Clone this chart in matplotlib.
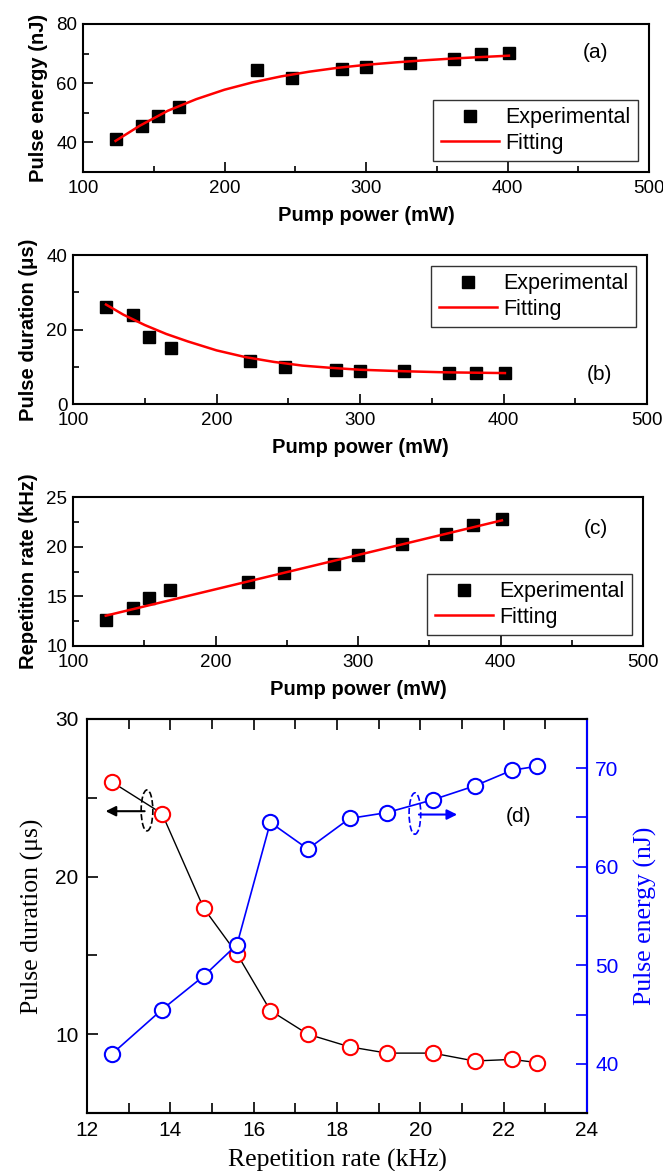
import matplotlib
matplotlib.use("Agg")
import matplotlib.pyplot as plt
from matplotlib.patches import Ellipse
from matplotlib.ticker import MultipleLocator

plt.rcParams['font.family'] = ['Liberation Sans', 'DejaVu Sans']

# measured data
pump = [123, 142, 153, 168, 223, 248, 283, 300, 331, 362, 381, 401]
energy = [41.0, 45.5, 48.9, 52.1, 64.5, 61.8, 64.9, 65.5, 66.8, 68.2, 69.8, 70.2]
duration = [26.0, 24.0, 18.0, 15.1, 11.5, 10.0, 9.2, 8.8, 8.8, 8.3, 8.4, 8.2]
reprate = [12.6, 13.8, 14.8, 15.6, 16.4, 17.3, 18.3, 19.2, 20.3, 21.3, 22.2, 22.8]

# fitting curves
fit_a_x = [123, 140, 160, 180, 200, 220, 240, 260, 280, 300, 320, 340, 360, 380, 401]
fit_a_y = [40.5, 45.6, 50.7, 54.6, 57.8, 60.3, 62.3, 63.9, 65.2, 66.2, 67.0, 67.7, 68.3, 68.8, 69.3]
fit_b_x = [123, 135, 150, 165, 180, 200, 220, 240, 260, 280, 300, 330, 360, 401]
fit_b_y = [26.7, 24.0, 21.2, 18.8, 16.8, 14.4, 12.6, 11.3, 10.3, 9.7, 9.2, 8.8, 8.5, 8.3]
fit_c_x = [123, 401]
fit_c_y = [13.05, 22.65]

W, H = 663, 1171
fig = plt.figure(figsize=(W / 100, H / 100), dpi=100)


def box(l, r, t, b):
    return [l / W, 1 - b / H, (r - l) / W, (b - t) / H]


def style_top(ax, ylabel, ymin, ymax, ymaj, ymin_step):
    ax.set_xlim(100, 500)
    ax.set_ylim(ymin, ymax)
    ax.xaxis.set_major_locator(MultipleLocator(100))
    ax.xaxis.set_minor_locator(MultipleLocator(50))
    ax.yaxis.set_major_locator(MultipleLocator(ymaj))
    ax.yaxis.set_minor_locator(MultipleLocator(ymin_step))
    ax.tick_params(which='both', direction='in', labelsize=13.5, width=1.2)
    ax.tick_params(axis='x', pad=6)
    ax.tick_params(axis='y', pad=4)
    ax.tick_params(which='major', length=7)
    ax.tick_params(which='minor', length=4)
    for s in ax.spines.values():
        s.set_linewidth(1.5)
    ax.set_xlabel('Pump power (mW)', fontsize=14.5, fontweight='bold', labelpad=6)
    ax.set_ylabel(ylabel, fontsize=14.5, fontweight='bold', labelpad=6)


def add_legend(ax, loc):
    leg = ax.legend(loc=loc, fontsize=15.5, frameon=True, fancybox=False,
                    edgecolor='black', handlelength=2.7, handletextpad=0.3,
                    borderpad=0.35, labelspacing=0.2, borderaxespad=0.5)
    leg.get_frame().set_linewidth(1.0)


# (a)
ax1 = fig.add_axes(box(83, 649, 24, 172))
ax1.plot(pump, energy, 's', color='black', markersize=8, label='Experimental')
ax1.plot(fit_a_x, fit_a_y, '-', color='red', lw=1.8, label='Fitting')
style_top(ax1, 'Pulse energy (nJ)', 30, 80, 20, 10)
add_legend(ax1, 'lower right')
ax1.text(0.906, 0.81, '(a)', transform=ax1.transAxes, fontsize=15, ha='center', va='center')

# (b)
ax2 = fig.add_axes(box(73, 647, 255, 404))
ax2.plot(pump, duration, 's', color='black', markersize=8, label='Experimental')
ax2.plot(fit_b_x, fit_b_y, '-', color='red', lw=1.8, label='Fitting')
style_top(ax2, 'Pulse duration (μs)', 0, 40, 20, 10)
add_legend(ax2, 'upper right')
ax2.text(0.917, 0.2, '(b)', transform=ax2.transAxes, fontsize=15, ha='center', va='center')

# (c)
ax3 = fig.add_axes(box(73, 643, 497, 646))
ax3.plot(pump, reprate, 's', color='black', markersize=8, label='Experimental')
ax3.plot(fit_c_x, fit_c_y, '-', color='red', lw=1.8, label='Fitting')
style_top(ax3, 'Repetition rate (kHz)', 10, 25, 5, 2.5)
add_legend(ax3, 'lower right')
ax3.text(0.917, 0.79, '(c)', transform=ax3.transAxes, fontsize=15, ha='center', va='center')

# (d)
serif = ['Liberation Serif', 'DejaVu Serif']
ax4 = fig.add_axes(box(87, 587, 719, 1113))
ax4.plot(reprate, duration, '-o', color='black', lw=1.0, markersize=11,
         markerfacecolor='white', markeredgecolor='red', markeredgewidth=1.5, zorder=3)
ax4.set_xlim(12, 24)
ax4.set_ylim(5, 30)
ax4.xaxis.set_major_locator(MultipleLocator(2))
ax4.xaxis.set_minor_locator(MultipleLocator(1))
ax4.yaxis.set_major_locator(MultipleLocator(10))
ax4.yaxis.set_minor_locator(MultipleLocator(5))
ax4.tick_params(which='both', direction='in', labelsize=15, width=1.2, top=True, pad=6)
ax4.tick_params(which='major', length=8)
ax4.tick_params(which='minor', length=7)
ax4.set_yticks([10, 20, 30])
ax4.set_xlabel('Repetition rate (kHz)', fontsize=18.5, family=serif, labelpad=6)
ax4.set_ylabel('Pulse duration (μs)', fontsize=18.5, family=serif, labelpad=8)
for s in ax4.spines.values():
    s.set_linewidth(1.5)

ax5 = ax4.twinx()
ax5.plot(reprate, energy, '-o', color='blue', lw=1.2, markersize=11,
         markerfacecolor='white', markeredgecolor='blue', markeredgewidth=1.5)
ax5.set_ylim(35, 75)
ax5.yaxis.set_major_locator(MultipleLocator(10))
ax5.yaxis.set_minor_locator(MultipleLocator(5))
ax5.tick_params(which='both', direction='in', labelsize=15, width=1.2, colors='blue', length=8, pad=6)
ax5.set_ylabel('Pulse energy (nJ)', fontsize=18.5, family=serif, color='blue', labelpad=11)
for s in ax5.spines.values():
    s.set_linewidth(1.5)
ax5.spines['right'].set_color('blue')
ax5.spines['left'].set_visible(False)

# annotations
ax4.add_patch(Ellipse((13.44, 24.2), 0.28, 2.6, fill=False, ls='--', lw=1.2, color='black', zorder=4))
ax4.annotate('', xy=(12.38, 24.15), xytext=(13.45, 24.15),
             arrowprops=dict(arrowstyle='-|>', color='black', lw=1.5, mutation_scale=15), zorder=4)
ax5.add_patch(Ellipse((19.87, 65.4), 0.28, 4.2, fill=False, ls='--', lw=1.2, color='blue'))
ax5.annotate('', xy=(20.95, 65.3), xytext=(19.9, 65.3),
             arrowprops=dict(arrowstyle='-|>', color='blue', lw=1.5, mutation_scale=15))
ax4.text(22.35, 23.8, '(d)', fontsize=15, ha='center', va='center')

fig.savefig('out.png', dpi=100)
